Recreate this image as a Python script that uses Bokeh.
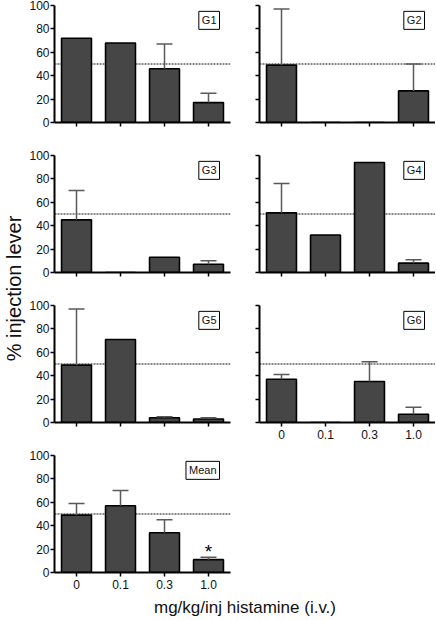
import math
from bokeh.plotting import figure
from bokeh.layouts import row, column
from bokeh.models import (FactorRange, Range1d, FixedTicker, Span, Whisker,
                          TeeHead, Label, ColumnDataSource)
from bokeh.core.properties import value
from bokeh.embed import file_html
from bokeh.resources import INLINE

# ---------------- data ----------------
doses = ["0", "0.1", "0.3", "1.0"]
yticks = [0, 20, 40, 60, 80, 100]

g1 = [72, 68, 46, 17]
g1_err = [0, 0, 21, 8]
g2 = [49, 0, 0, 27]
g2_err = [48, 0, 0, 23]
g3 = [45, 0, 13, 7]
g3_err = [25, 0, 0, 3]
g4 = [51, 32, 94, 8]
g4_err = [25, 0, 0, 3]
g5 = [49, 71, 4, 3]
g5_err = [48, 0, 1, 1]
g6 = [37, 0, 35, 7]
g6_err = [4, 0, 17, 6]
mean = [49, 57, 34, 11]
mean_err = [10, 13, 11, 2]
mean_sig = ["", "", "", "*"]

chance_level = 50
y_title = "% injection lever"
x_title = "mg/kg/inj histamine (i.v.)"

FONT = "Liberation Sans"
BAR_FILL = "#464646"
ERR_COLOR = "#5a5a5a"

FRAME_W = 176
PANEL_H = 150
YLAB_W = 26


def panel(name, vals, errs, left, xlabels, sig=None, bottom=28):
    mb_left = 28 if left else 26
    mb_right = 3 if left else 0
    p = figure(x_range=FactorRange(*doses), y_range=Range1d(0, 100),
               width=mb_left + FRAME_W + mb_right,
               height=5 + 117 + bottom,
               min_border_left=mb_left, min_border_right=mb_right,
               min_border_top=5, min_border_bottom=bottom,
               output_backend="svg", toolbar_location=None)
    p.xgrid.visible = False
    p.ygrid.visible = False
    p.outline_line_color = None
    p.background_fill_color = "white"
    p.border_fill_color = "white"

    p.add_layout(Span(location=chance_level, dimension="width",
                      line_color="#111111", line_width=1,
                      line_dash="2 1", level="underlay"))

    src = ColumnDataSource(dict(x=doses, top=vals))
    p.vbar(x="x", top="top", bottom=0, width=0.68, source=src,
           fill_color=BAR_FILL, line_color="black", line_width=1.6)

    bx, lo, up = [], [], []
    for d, v, e in zip(doses, vals, errs):
        if e > 0:
            bx.append(d)
            lo.append(v)
            up.append(v + e)
    if bx:
        wsrc = ColumnDataSource(dict(base=bx, lower=lo, upper=up))
        w = Whisker(source=wsrc, base="base", lower="lower", upper="upper",
                    line_color=ERR_COLOR, line_width=1.5,
                    upper_head=TeeHead(size=16, line_color=ERR_COLOR,
                                       line_width=1.5),
                    lower_head=None, level="annotation")
        p.add_layout(w)

    if sig is not None:
        sx, sy, st = [], [], []
        for d, v, e, s in zip(doses, vals, errs, sig):
            if s:
                sx.append(d)
                sy.append(v + e + 5)
                st.append(s)
        p.text(x=sx, y=sy, text=st, text_align="center",
               text_baseline="alphabetic", text_font=value(FONT),
               text_font_size="19px", text_color="black")

    p.add_layout(Label(x=3.75, y=95, text=name, text_align="right",
                       text_baseline="top", text_font=FONT,
                       text_font_size="11px", text_color="#111111",
                       border_line_color="black", border_line_width=1,
                       background_fill_color="white", padding=3))

    for ax in (p.xaxis[0], p.yaxis[0]):
        ax.axis_line_width = 2
        ax.axis_line_color = "black"
        ax.major_tick_line_width = 1.5
        ax.major_tick_line_color = "black"
        ax.major_tick_out = 4
        ax.major_tick_in = 0
        ax.minor_tick_line_color = None
        ax.major_label_text_font = FONT
        ax.major_label_text_font_size = "12px"
        ax.major_label_text_color = "#111111"
    p.yaxis.ticker = FixedTicker(ticks=yticks)
    p.yaxis.major_label_standoff = 1
    p.xaxis.major_label_standoff = 3
    if not left:
        p.yaxis.major_label_overrides = {t: "" for t in yticks}
    if not xlabels:
        p.xaxis.major_label_text_color = None
    return p


p1 = panel("G1", g1, g1_err, True, False)
p2 = panel("G2", g2, g2_err, False, False)
p3 = panel("G3", g3, g3_err, True, False)
p4 = panel("G4", g4, g4_err, False, False)
p5 = panel("G5", g5, g5_err, True, False)
p6 = panel("G6", g6, g6_err, False, True)
pm = panel("Mean", mean, mean_err, True, True, sig=mean_sig, bottom=23)

TITLE_H = 24
TOTAL_H = 3 * PANEL_H + pm.height + TITLE_H
grid_w = p1.width + p2.width


def blank(w, h):
    f = figure(width=w, height=h, x_range=Range1d(0, w), y_range=Range1d(0, h),
               min_border=0, output_backend="svg", toolbar_location=None)
    f.axis.visible = False
    f.xgrid.visible = False
    f.ygrid.visible = False
    f.outline_line_color = None
    return f


ylab = blank(YLAB_W, TOTAL_H)
ylab.add_layout(Label(x=13, y=TOTAL_H - 288, text=y_title, angle=math.pi / 2,
                      text_align="center", text_baseline="middle",
                      text_font=FONT, text_font_size="20px",
                      text_color="#111111"))

xlab = blank(grid_w, TITLE_H)
xlab.add_layout(Label(x=244.5 - YLAB_W, y=TITLE_H - 12, text=x_title,
                      text_align="center", text_baseline="middle",
                      text_font=FONT, text_font_size="17px",
                      text_color="#111111"))

lay = row(ylab, column(row(p1, p2), row(p3, p4), row(p5, p6), row(pm), xlab))

open("out.html", "w").write(file_html(lay, INLINE))
